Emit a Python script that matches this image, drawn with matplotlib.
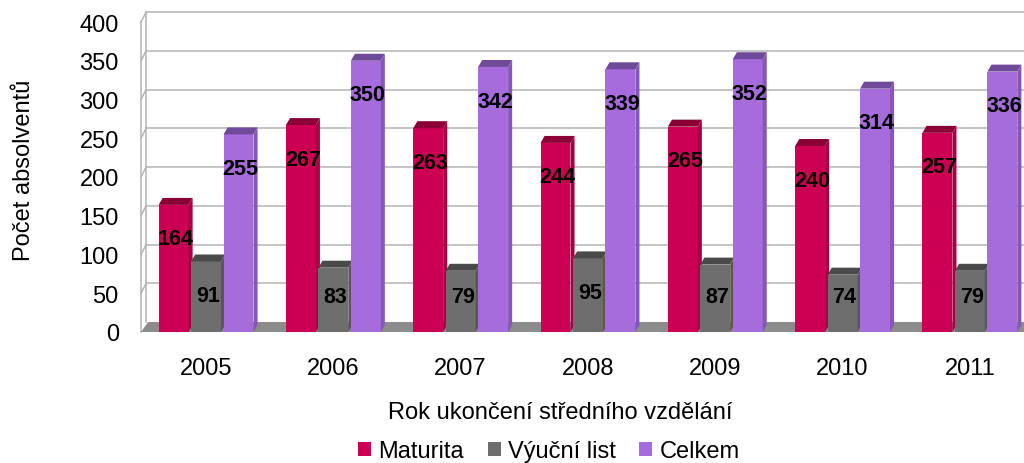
import matplotlib.pyplot as plt
import numpy as np
from matplotlib.patches import Polygon

plt.rcParams['font.family'] = ['Liberation Sans', 'DejaVu Sans']

# data
years = ['2005', '2006', '2007', '2008', '2009', '2010', '2011']
maturita = [164, 267, 263, 244, 265, 240, 257]
vyucni_list = [91, 83, 79, 95, 87, 74, 79]
celkem = [255, 350, 342, 339, 352, 314, 336]

series = [('Maturita', maturita, '#CC0052', '#8A0036', '#A80043'),
          ('Výuční list', vyucni_list, '#6E6E6E', '#4A4A4A', '#575757'),
          ('Celkem', celkem, '#A66CDC', '#6F4A98', '#8757B8')]

fig = plt.figure(figsize=(10.24, 4.64), dpi=100)
# front edge of the plot: x 141..1024 px, y 0 -> 333 px, 400 -> 23 px
ax = fig.add_axes([141 / 1024, 131 / 464, 883 / 1024, 310 / 464])
ax.set_xlim(-0.511, 6.425)
ax.set_ylim(0, 400)
for s in ax.spines.values():
    s.set_visible(False)
ax.patch.set_visible(False)

# depth of the 3d look, in data units (~5 px right, ~10 px up)
wall_dx, wall_dy = 0.04, 12.9
cap_dx, cap_dy = 0.032, 9.0

x = np.arange(len(years))
yticks = np.arange(0, 401, 50)
xl, xr = ax.get_xlim()

# floor
floor = Polygon([(xl, 0), (xr, 0), (xr + wall_dx * 2, wall_dy),
                 (xl + wall_dx * 1.4, wall_dy)],
                closed=True, facecolor='#8C8C8C', edgecolor='none',
                clip_on=False, zorder=1)
ax.add_patch(floor)

# back wall gridlines and left wall stubs
grid_c = '#B4B4B4'
for yt in yticks[1:]:
    ax.plot([xl + wall_dx, xr + 0.2], [yt + wall_dy, yt + wall_dy],
            color=grid_c, lw=1.1, clip_on=False, zorder=0)
    ax.plot([xl, xl + wall_dx], [yt, yt + wall_dy],
            color=grid_c, lw=1.1, clip_on=False, zorder=0)
ax.plot([xl, xl], [0, 400], color=grid_c, lw=1.1, clip_on=False, zorder=0)
ax.plot([xl + wall_dx, xl + wall_dx], [wall_dy, 400 + wall_dy],
        color=grid_c, lw=1.1, clip_on=False, zorder=0)

offsets = [-0.255, 0.0, 0.255]
width = 0.235
for (name, vals, col, dark, side), off in zip(series, offsets):
    bars = ax.bar(x + off, vals, width, color=col, edgecolor='none',
                  label=name, zorder=3)
    for xi, v in zip(x + off, vals):
        x0, x1 = xi - width / 2, xi + width / 2
        top = Polygon([(x0, v), (x1, v), (x1 + cap_dx, v + cap_dy),
                       (x0 + cap_dx, v + cap_dy)],
                      closed=True, facecolor=dark, edgecolor='none', zorder=3)
        ax.add_patch(top)
        right = Polygon([(x1, 0), (x1, v), (x1 + cap_dx, v + cap_dy),
                         (x1 + cap_dx, cap_dy)],
                        closed=True, facecolor=side, edgecolor='none', zorder=3)
        ax.add_patch(right)
        ax.text(xi + 0.015, max(v - 44, 46), str(v), ha='center', va='center',
                fontsize=15.5, fontweight='bold', color='black', zorder=5)

ax.set_xticks(x)
ax.set_xticklabels(years)
ax.set_yticks(yticks)
ax.tick_params(axis='both', length=0, labelsize=17)
ax.tick_params(axis='x', pad=18)
ax.tick_params(axis='y', pad=16)

fig.text(560 / 1024, 1 - 413 / 464, 'Rok ukončení středního vzdělání',
         ha='center', va='center', fontsize=17)
fig.text(24 / 1024, 1 - 170 / 464, 'Počet absolventů', rotation=90,
         ha='center', va='center', fontsize=17)

fig.legend(loc='center', bbox_to_anchor=(0.536, 12 / 464), ncol=3,
           frameon=False, fontsize=17, handlelength=0.55, handleheight=0.55,
           handletextpad=0.3, columnspacing=1.0, borderaxespad=0)

fig.savefig('out.png', dpi=100)
